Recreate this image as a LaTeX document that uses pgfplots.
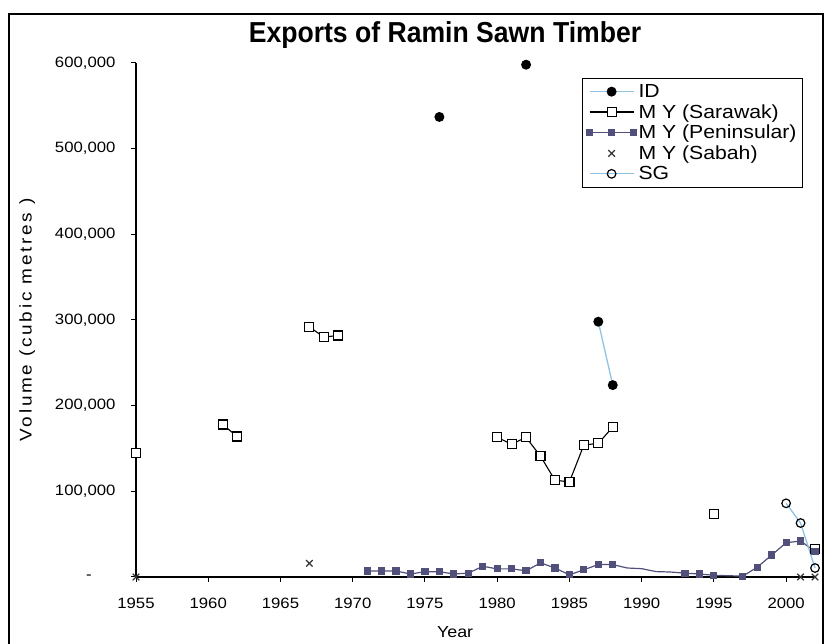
\documentclass[border=0pt]{standalone}
\usepackage{pgfplots}
\pgfplotsset{compat=1.18}
\usepackage{fontspec}
\setmainfont{Liberation Sans}[FakeStretch=1.12]
\newfontfamily\titlefont{Liberation Sans}[FakeStretch=0.92]
\newfontfamily\labelfont{Liberation Sans}[FakeStretch=1.12,LetterSpace=16]
\definecolor{idblue}{HTML}{8FC3E6}
\definecolor{penin}{HTML}{50507A}
\begin{document}
\begin{tikzpicture}[x=1bp,y=1bp]
\path[use as bounding box] (0,0) rectangle (826,644);
\begin{scope}
\clip (0,0) rectangle (826,644);
\draw[line width=1.2bp] (9,-10) -- (9,630) -- (823,630) -- (823,-10);
\end{scope}
\node[font=\titlefont\bfseries\fontsize{29}{32}\selectfont] at (445,609) {Exports of Ramin Sawn Timber};
\begin{axis}[
  at={(136bp,67bp)}, anchor=south west,
  scale only axis, width=679bp, height=514bp,
  xmin=1955, xmax=2002, ymin=0, ymax=600000,
  scaled y ticks=false, scaled x ticks=false,
  axis lines*=left,
  axis line style={line width=1.2bp, black},
  clip=false,
  unbounded coords=jump,
  xtick={1955,1960,1965,1970,1975,1980,1985,1990,1995,2000},
  xticklabels={1955,1960,1965,1970,1975,1980,1985,1990,1995,2000},
  ytick={0,100000,200000,300000,400000,500000,600000},
  yticklabels={{-\kern1.6em},{100,000},{200,000},{300,000},{400,000},{500,000},{600,000}},
  tick align=outside,
  major tick length=5bp,
  tick style={black, line width=1bp},
  ticklabel style={font=\fontsize{15}{17}\selectfont},
  xticklabel style={yshift=-13bp},
  yticklabel style={xshift=-12bp},
  xlabel={Year},
  ylabel={Volume (cubic metres )},
  xlabel style={font=\fontsize{16}{18}\selectfont, at={(axis description cs:0.47,-0.107)}, anchor=center},
  ylabel style={font=\labelfont\fontsize{17}{19}\selectfont, at={(axis description cs:-0.16,0.5)}, anchor=center},
  legend style={at={(0.657,0.971)}, anchor=north west, draw=black, line width=1bp,
    font=\fontsize{19}{21}\selectfont, inner xsep=4bp, inner ysep=4bp, row sep=1.5bp},
  legend cell align=left,
  legend image code/.code={\draw[mark repeat=2,mark phase=2,#1] plot coordinates {(0bp,0bp) (22bp,0bp) (44bp,0bp)};},
]
\addplot[idblue, line width=1.3bp, mark=*, mark size=4.3bp, mark options={draw=black, fill=black, solid}]
  coordinates {(1976,537000) (1977,nan) (1982,598000) (1983,nan) (1987,298000) (1988,224000)};
\addlegendentry{ID}
\addplot[black, line width=1.1bp, mark=square*, mark size=4.5bp, mark options={draw=black, fill=white, line width=1.2bp}]
  coordinates {(1955,145000) (1956,nan) (1961,178000) (1962,164000) (1963,nan)
   (1967,292000) (1968,280000) (1969,282000) (1970,nan)
   (1980,163000) (1981,155000) (1982,163000) (1983,141000) (1984,113000) (1985,111000) (1986,154000) (1987,156000) (1988,175000) (1989,nan)
   (1995,74000) (1996,nan) (2002,33000)};
\addlegendentry{M Y (Sarawak)}
\addplot[penin, line width=1.2bp, mark=square*, mark size=3bp, mark options={draw=penin, fill=penin},
  mark indices={1,2,3,4,5,6,7,8,9,10,11,12,13,14,15,16,17,18,23,24,25,26,27,28,29,30,31}]
  coordinates {(1971,7000) (1972,7000) (1973,7000) (1974,3500) (1975,6200) (1976,6200) (1977,3500) (1978,4500)
   (1979,12500) (1980,9500) (1981,9500) (1982,7200) (1983,16500) (1984,10500) (1985,2500) (1986,8500) (1987,14500) (1988,14500)
   (1989,10500) (1990,9700) (1991,6300) (1992,5800) (1993,4500) (1994,3500) (1995,2000)
   (1997,1000) (1998,11400) (1999,25600) (2000,40000) (2001,42000) (2002,30000)};
\addlegendentry{M Y (Peninsular)}
\addplot[only marks, black!80, mark=x, mark size=4.6bp, mark options={line width=1.2bp}]
  coordinates {(1955,0) (1967,16000) (2001,0) (2002,0)};
\addlegendentry{M Y (Sabah)}
\addplot[idblue, line width=1.3bp, mark=o, mark size=4.3bp, mark options={draw=black, fill=white, line width=1.2bp, solid}]
  coordinates {(2000,86000) (2001,63000) (2002,10500)};
\addlegendentry{SG}
\end{axis}
\end{tikzpicture}
\end{document}
